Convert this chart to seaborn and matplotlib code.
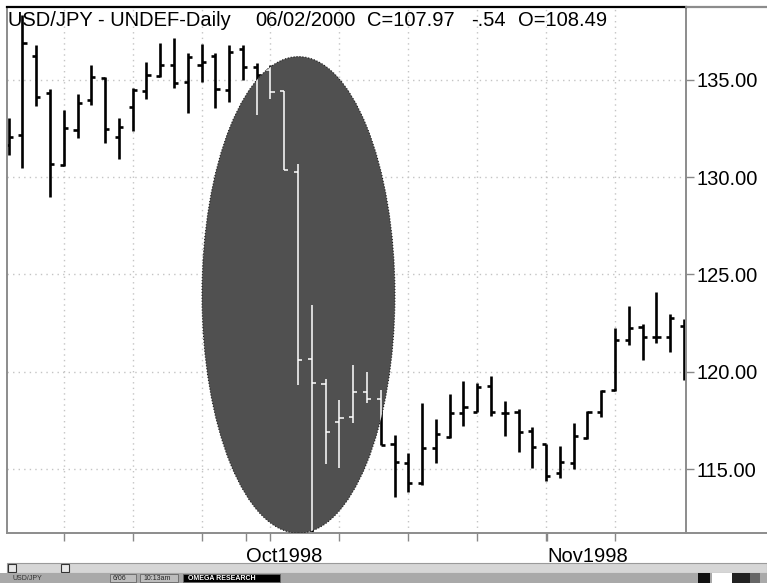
import matplotlib
matplotlib.use("Agg")
import matplotlib.pyplot as plt
from matplotlib.patches import Ellipse, Rectangle
from matplotlib.lines import Line2D
import pandas as pd
import seaborn as sns

# daily USD/JPY bars, Sep - Nov 1998
opens = [131.66, 132.17, 136.23, 134.33, 130.63, 132.43, 133.97, 135.10, 132.07, 133.61,
         134.43, 135.21, 135.77, 134.90, 135.77, 136.23, 134.49, 136.59, 135.67, 135.51,
         134.43, 130.27, 120.66, 119.38, 117.42, 117.68, 118.97, 118.61, 116.29, 115.32,
         114.29, 116.09, 116.65, 117.89, 117.94, 119.27, 117.89, 117.94, 116.96, 116.29,
         114.80, 115.32, 116.60, 117.94, 119.07, 121.64, 122.31, 121.79, 121.79, 122.36]
highs = [133.05, 138.34, 136.80, 134.54, 133.46, 134.28, 135.77, 135.15, 133.05, 134.59,
         135.93, 136.90, 137.16, 136.39, 136.85, 136.39, 136.80, 136.80, 135.87, 135.77,
         134.43, 130.68, 123.44, 119.63, 118.56, 120.35, 119.99, 119.07, 116.76, 115.83,
         118.40, 117.58, 118.86, 119.53, 119.43, 119.79, 118.50, 118.09, 117.17, 116.29,
         116.19, 117.37, 117.99, 119.07, 122.25, 123.39, 122.46, 124.11, 122.97, 122.72]
lows = [131.15, 130.48, 133.66, 128.99, 130.58, 132.02, 133.72, 131.76, 130.94, 132.38,
        134.02, 135.15, 134.59, 133.30, 134.90, 133.56, 133.87, 135.00, 133.20, 134.02,
        130.37, 119.33, 111.60, 115.27, 115.06, 117.37, 118.40, 116.24, 113.57, 113.83,
        114.19, 115.32, 116.60, 117.22, 117.94, 117.73, 116.71, 115.88, 115.06, 114.39,
        114.55, 115.01, 116.55, 117.68, 119.02, 121.38, 120.61, 121.48, 121.02, 119.58]
closes = [132.07, 136.90, 134.13, 130.68, 132.53, 133.82, 135.15, 132.48, 132.58, 134.49,
          135.26, 135.77, 134.85, 136.18, 135.93, 134.54, 136.44, 135.67, 135.26, 134.38,
          130.37, 120.61, 119.43, 116.91, 117.63, 118.97, 118.61, 116.24, 115.37, 114.29,
          116.09, 116.81, 117.89, 118.20, 119.22, 117.94, 117.89, 116.91, 116.14, 114.65,
          115.37, 116.71, 117.94, 119.02, 121.64, 122.25, 121.79, 121.79, 122.77, 119.84]

price_ticks = [115, 120, 125, 130, 135]
week_ticks = [4, 9, 14, 19, 24, 29, 34, 39, 44]
month_pos = [17.2, 39.1]
month_labels = ["Oct1998", "Nov1998"]
header = ["USD/JPY - UNDEF-Daily", "06/02/2000", "C=107.97", "-.54", "O=108.49"]

df = pd.DataFrame({"open": opens, "high": highs, "low": lows, "close": closes})
df["bar"] = range(len(df))


def draw_bars(ax, df, color, lw, zorder, clip=None):
    """OHLC bars: vertical range, open tick left, close tick right"""
    arts = [
        ax.vlines(df.bar, df.low, df.high, color=color, lw=lw, zorder=zorder),
        ax.hlines(df.open, df.bar - 0.3, df.bar, color=color, lw=lw, zorder=zorder),
        ax.hlines(df.close, df.bar, df.bar + 0.3, color=color, lw=lw, zorder=zorder),
    ]
    if clip is not None:
        for a in arts:
            a.set_clip_path(clip)


sns.set_theme(style="white")
plt.rcParams['font.family'] = ['Liberation Sans', 'DejaVu Sans']

W, H = 767, 583
fig = plt.figure(figsize=(W / 100, H / 100), dpi=100)
ax = fig.add_axes([7 / W, 50 / H, 679 / W, 526 / H])
ax.set_facecolor("white")

ax.set_xlim(-0.12, 49.15)
ax.set_ylim(111.71, 138.75)

# dotted grid
for x in week_ticks:
    ax.axvline(x, color="#c4c4c4", lw=1, ls=(0, (1, 3)), zorder=0)
for y in price_ticks:
    ax.axhline(y, color="#c4c4c4", lw=1, ls=(0, (1, 3)), zorder=0)

draw_bars(ax, df, "black", 1.9, 2)

# the highlighted collapse
oval = Ellipse((21.03, 123.95), width=14.0, height=24.5, facecolor="#505050",
               edgecolor="#1a1a1a", lw=0.8, ls=":", zorder=3)
ax.add_patch(oval)
draw_bars(ax, df, "white", 1.1, 4, clip=oval)

# axes
ax.yaxis.tick_right()
ax.set_yticks(price_ticks, [f"{v:.2f}" for v in price_ticks])
ax.set_xticks(week_ticks, ["" if x != 39 else "" for x in week_ticks])
ax.set_xticks(month_pos, month_labels, minor=True)
for lab in ax.get_xticklabels(minor=True):
    lab.set_ha("left")
ax.tick_params(axis="y", which="both", direction="out", length=6, width=1,
               color="#888888", labelsize=14.5, pad=1.5, labelcolor="black",
               left=False, right=True)
ax.tick_params(axis="x", which="both", direction="out", length=6, width=1,
               color="#888888", labelsize=14.5, pad=4, labelcolor="black",
               bottom=True)
ax.set_xlabel("")
ax.set_ylabel("")
for side in ["left", "right", "bottom"]:
    ax.spines[side].set_color("#8c8c8c")
    ax.spines[side].set_linewidth(1.4)
ax.spines["top"].set_color("black")
ax.spines["top"].set_linewidth(1.6)

# header text inside the chart
for txt, xp in zip(header, [8, 255, 367, 471, 518]):
    fig.text(xp / W, 1 - 21 / H, txt, fontsize=14.5, va="center", ha="left", color="black")

# frame lines continuing to the right edge
fig.add_artist(Line2D([686 / W, 1], [1 - 7 / H] * 2, color="#8c8c8c", lw=1.6))
fig.add_artist(Line2D([686 / W, 1], [50 / H] * 2, color="#8c8c8c", lw=1.4))

# scrollbar and status bar of the charting window
fig.add_artist(Rectangle((7 / W, 10 / H), 760 / W, 10 / H, facecolor="#d6d6d6",
                         edgecolor="#9a9a9a", lw=0.8, transform=fig.transFigure))
for xp in [8, 61]:
    fig.add_artist(Rectangle((xp / W, 11 / H), 8 / W, 8 / H, facecolor="#e8e8e8",
                             edgecolor="#333333", lw=0.8, transform=fig.transFigure))
fig.add_artist(Rectangle((0, 0), 1, 10 / H, facecolor="#a9a9a9", edgecolor="none",
                         transform=fig.transFigure))
for x0, w in [(110, 26), (140, 38)]:
    fig.add_artist(Rectangle((x0 / W, 1 / H), w / W, 8 / H, facecolor="#bdbdbd",
                             edgecolor="#666666", lw=0.6, transform=fig.transFigure))
fig.add_artist(Rectangle((183 / W, 1 / H), 97 / W, 8 / H, facecolor="black",
                         edgecolor="#666666", lw=0.6, transform=fig.transFigure))
fig.text(12 / W, 5 / H, "USD/JPY", fontsize=5, va="center", color="#333333")
fig.text(113 / W, 5 / H, "6/06", fontsize=5, va="center", color="#222222")
fig.text(143 / W, 5 / H, "10:13am", fontsize=5, va="center", color="#222222")
fig.text(188 / W, 5 / H, "OMEGA RESEARCH", fontsize=5, va="center", color="white",
         fontweight="bold")
for x0, w, c in [(698, 12, "#111111"), (712, 20, "#ffffff"), (732, 18, "#222222"),
                 (750, 10, "#666666")]:
    fig.add_artist(Rectangle((x0 / W, 0), w / W, 10 / H, facecolor=c, edgecolor="none",
                             transform=fig.transFigure))

fig.savefig("out.png", dpi=100)
